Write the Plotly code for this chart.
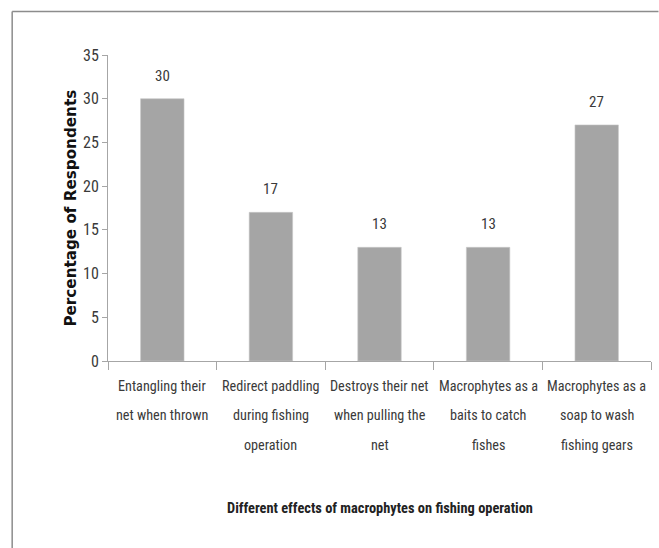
import plotly.graph_objects as go

# Survey results: effects of aquatic macrophytes on fishing operations
categories = [
    "Entangling their<br>net when thrown",
    "Redirect paddling<br>during fishing<br>operation",
    "Destroys their net<br>when pulling the<br>net",
    "Macrophytes as a<br>baits to catch<br>fishes",
    "Macrophytes as a<br>soap to wash<br>fishing gears",
]
percent = [30, 17, 13, 13, 27]
y_ticks = [0, 5, 10, 15, 20, 25, 30, 35]

W, H = 659, 548
L, R, T, B = 107.5, 7.5, 55, 187
pw, ph = W - L - R, H - T - B

FONT = "Liberation Sans Narrow, Roboto Condensed, Arial Narrow, sans-serif"
TXT = "#3a3a3a"
AXIS = "#a6a6a6"

fig = go.Figure(
    go.Bar(
        x=categories,
        y=percent,
        marker=dict(color="#a5a5a5", line=dict(color="#c8c8c8", width=0.6)),
        width=0.4,
        hoverinfo="x+y",
    )
)

annotations = []
# value labels above each bar
for c, v in zip(categories, percent):
    annotations.append(dict(
        x=c, y=v, xref="x", yref="y", text=str(v), showarrow=False,
        yanchor="middle", yshift=23, font=dict(family=FONT, size=15, color=TXT),
    ))
# wrapped category labels, one annotation per line for wider line spacing
line_offsets = [24.5, 54, 84]
for c in categories:
    for i, part in enumerate(c.split("<br>")):
        annotations.append(dict(
            x=c, y=0, xref="x", yref="paper", text=part, showarrow=False,
            yanchor="middle", yshift=-line_offsets[i],
            font=dict(family=FONT, size=14.2, color=TXT),
        ))
# axis titles
annotations.append(dict(
    x=0.5, y=0, xref="paper", yref="paper", yshift=-147, yanchor="middle",
    text="<b>Different effects of macrophytes on fishing operation</b>",
    showarrow=False, font=dict(family=FONT, size=14.4, color="#222"),
))
annotations.append(dict(
    x=(70 - L) / pw, y=0.5, xref="paper", yref="paper", textangle=-90,
    xanchor="center", yanchor="middle",
    text="<b>Percentage of Respondents</b>", showarrow=False,
    font=dict(family="DejaVu Sans, Verdana, sans-serif", size=15.2, color="#111"),
))

# outer chart frame (left and top edges)
fx0 = (11.5 - L) / pw
fy_top = (H - B - 11.5) / ph
fy_bot = (H - B - H) / ph
fx1 = (W - L) / pw
shapes = [
    dict(type="line", xref="paper", yref="paper", x0=fx0, x1=fx1, y0=fy_top, y1=fy_top,
         line=dict(color="#8c8c8c", width=1.5)),
    dict(type="line", xref="paper", yref="paper", x0=fx0, x1=fx0, y0=fy_top, y1=fy_bot,
         line=dict(color="#8c8c8c", width=1.5)),
]

fig.update_layout(
    width=W, height=H,
    margin=dict(l=L, r=R, t=T, b=B, pad=0),
    paper_bgcolor="white", plot_bgcolor="white",
    showlegend=False,
    annotations=annotations,
    shapes=shapes,
    bargap=0.6,
)
fig.update_xaxes(
    type="category", showticklabels=False, showline=True, linecolor=AXIS, linewidth=1,
    ticks="outside", tickson="boundaries", ticklen=8, tickcolor=AXIS,
    showgrid=False, zeroline=False, range=[-0.5, 4.5],
)
fig.update_yaxes(
    range=[0, 35], tickvals=y_ticks, showline=True, linecolor=AXIS, linewidth=1,
    ticks="outside", ticklen=5, tickcolor=AXIS, showgrid=False, zeroline=False,
    tickfont=dict(family=FONT, size=16, color=TXT),
)

fig.write_html("out.html")
